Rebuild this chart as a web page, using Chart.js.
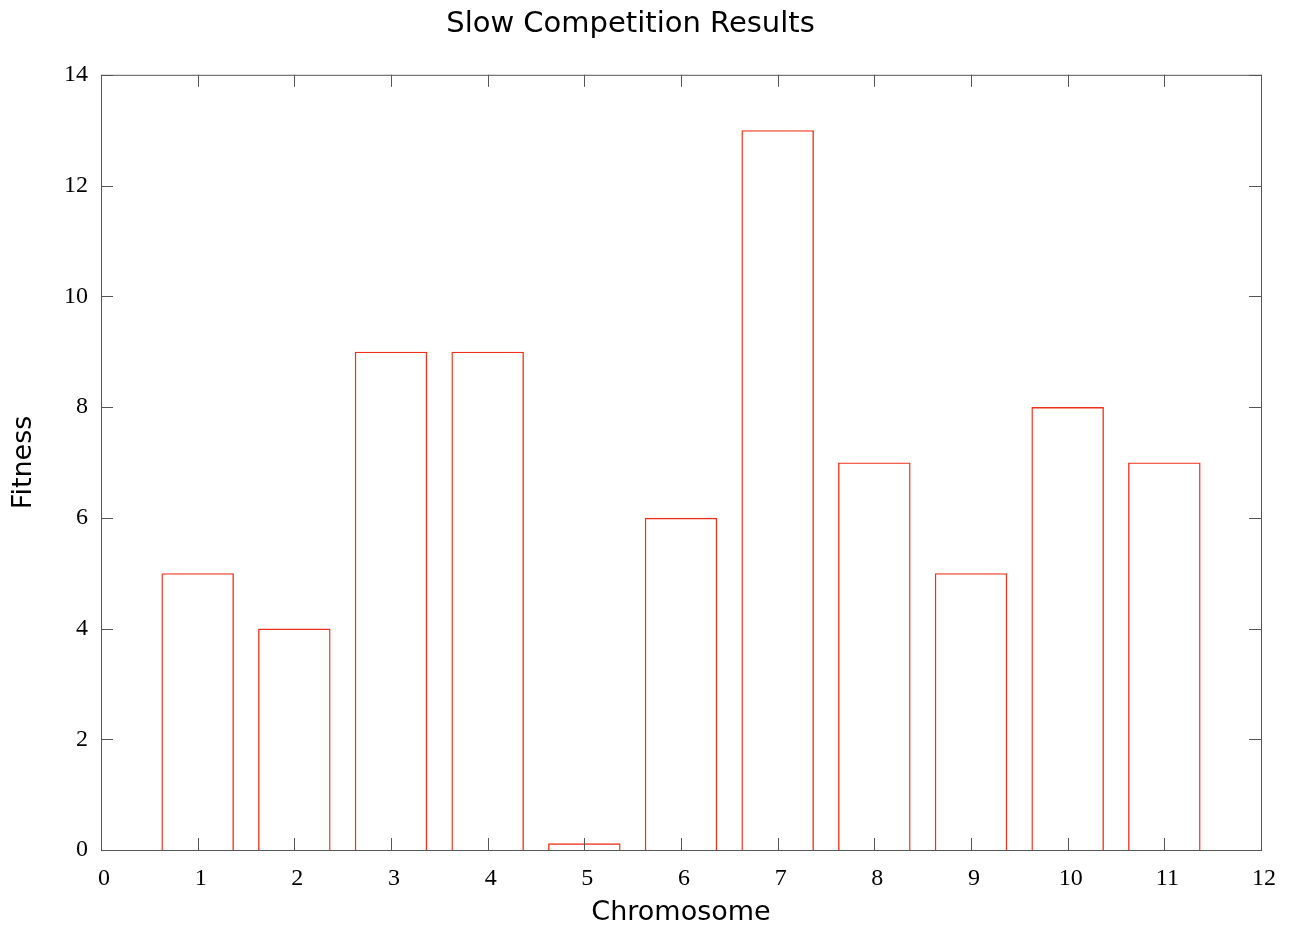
<!DOCTYPE html>
<html>
<head>
<meta charset="utf-8">
<script src="https://cdn.jsdelivr.net/npm/chart.js@4.4.1/dist/chart.umd.min.js"></script>
<style>
  html, body { margin: 0; padding: 0; background: #fff; }
  #wrap { width: 1297px; height: 932px; }
</style>
</head>
<body>
<div id="wrap"><canvas id="fitnessChart"></canvas></div>
<script>
// ===== DATA =====
const chromosomes = [1, 2, 3, 4, 5, 6, 7, 8, 9, 10, 11];
const fitness = [5, 4, 9, 9, 0.12, 6, 13, 7, 5, 8, 7];
const xTicks = [0, 1, 2, 3, 4, 5, 6, 7, 8, 9, 10, 11, 12];
const yTicks = [0, 2, 4, 6, 8, 10, 12, 14];

const serif = 'Liberation Serif';
const sans = 'DejaVu Sans';

// frame + inward ticks on all four sides (gnuplot style)
const framePlugin = {
  id: 'frame',
  afterDraw(chart) {
    const { ctx, chartArea: a, scales } = chart;
    const len = 12;
    ctx.save();
    ctx.strokeStyle = '#555';
    ctx.lineWidth = 1;
    ctx.strokeRect(a.left + 0.5, a.top + 0.5, a.right - a.left, a.bottom - a.top);
    ctx.beginPath();
    xTicks.forEach(v => {
      const px = Math.round(scales.x.getPixelForValue(v)) + 0.5;
      ctx.moveTo(px, a.bottom); ctx.lineTo(px, a.bottom - len);
      ctx.moveTo(px, a.top); ctx.lineTo(px, a.top + len);
    });
    yTicks.forEach(v => {
      const py = Math.round(scales.y.getPixelForValue(v)) + 0.5;
      ctx.moveTo(a.left, py); ctx.lineTo(a.left + len, py);
      ctx.moveTo(a.right, py); ctx.lineTo(a.right - len, py);
    });
    ctx.stroke();
    ctx.restore();
  }
};

const ctx = document.getElementById('fitnessChart');
new Chart(ctx.getContext('2d'), {
  type: 'bar',
  data: {
    datasets: [{
      label: 'Fitness',
      data: chromosomes.map((c, i) => ({ x: c, y: fitness[i] })),
      backgroundColor: 'rgba(0,0,0,0)',
      borderColor: '#f0301a',
      borderWidth: 1.4,
      barPercentage: 0.75,
      categoryPercentage: 1
    }]
  },
  options: {
    responsive: true,
    maintainAspectRatio: false,
    animation: false,
    layout: { padding: { left: 0, right: 36, top: 0, bottom: 0 } },
    plugins: {
      legend: { display: false },
      tooltip: { enabled: false },
      title: {
        display: true,
        text: 'Slow Competition Results',
        color: '#000',
        font: { family: sans, size: 29, weight: 'normal' },
        padding: { top: 7, bottom: 33 }
      }
    },
    scales: {
      x: {
        type: 'linear',
        min: 0,
        max: 12,
        offset: false,
        afterBuildTicks: s => { s.ticks = xTicks.map(v => ({ value: v })); },
        afterFit: s => { s.height = 82; },
        grid: { display: false, drawTicks: false },
        border: { display: false },
        ticks: { color: '#000', padding: 14, labelOffset: 3, font: { family: serif, size: 24 } },
        title: {
          display: true,
          text: 'Chromosome',
          color: '#000',
          font: { family: sans, size: 27 },
          padding: { top: 0, bottom: 3 }
        }
      },
      y: {
        min: 0,
        max: 14,
        afterBuildTicks: s => { s.ticks = yTicks.map(v => ({ value: v })); },
        afterFit: s => { s.width = 101; },
        grid: { display: false, drawTicks: false },
        border: { display: false },
        ticks: { color: '#000', padding: 13, font: { family: serif, size: 24 } },
        title: {
          display: true,
          text: 'Fitness',
          color: '#000',
          font: { family: sans, size: 27 },
          padding: { top: 8, bottom: 0 }
        }
      }
    }
  },
  plugins: [framePlugin]
});
</script>
</body>
</html>
